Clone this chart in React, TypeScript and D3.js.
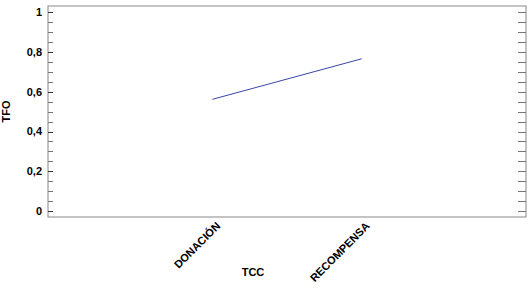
import React from "react";
import * as d3 from "d3";

const categories = ["DONACIÓN", "RECOMPENSA"];
const values = [0.562, 0.766];
const majorTicks = [0, 0.2, 0.4, 0.6, 0.8, 1];
const minorTicks = d3.range(0, 1.0001, 0.05);

export default function App() {
  const W = 528, H = 296;
  const left = 48, right = 526, top = 6, bottom = 217;
  const x = d3.scalePoint<string>().domain(categories).range([left, right]).padding(1.1);
  const y = d3.scaleLinear().domain([0, 1]).range([211, 12.3]);
  const line = d3.line<number>().x((_, i) => x(categories[i])!).y((d) => y(d));
  const fmt = (v: number) => d3.format(".1~f")(v).replace(".", ",");
  const font = "'Liberation Sans', Arial, sans-serif";
  return (
    <svg width={W} height={H} style={{ position: "absolute", left: 0, top: 0 }} fontFamily={font}>
      <rect x={0} y={0} width={W} height={H} fill="#fff" />
      <rect x={left} y={top} width={right - left} height={bottom - top} fill="none" stroke="#888" strokeWidth={1} />
      {minorTicks.map((t, i) => (
        <g key={"m" + i}>
          <line x1={left} x2={left + 5} y1={Math.round(y(t)) + 0.5} y2={Math.round(y(t)) + 0.5} stroke="#777" />
          <line x1={right - 8} x2={right} y1={Math.round(y(t)) + 0.5} y2={Math.round(y(t)) + 0.5} stroke="#777" />
        </g>
      ))}
      {majorTicks.map((t, i) => (
        <g key={"M" + i}>
          <line x1={left} x2={left + 5} y1={Math.round(y(t)) + 0.5} y2={Math.round(y(t)) + 0.5} stroke="#333" />
          <text x={42} y={y(t)} dy="0.35em" textAnchor="end" fontSize={11} fontWeight="bold" fill="#000">
            {fmt(t)}
          </text>
        </g>
      ))}
      <path d={line(values)!} fill="none" stroke="#3a46a8" strokeWidth={1} />
      {categories.map((c) => (
        <text key={c} transform={`translate(${x(c)! + 6},${224}) rotate(-45)`} textAnchor="end" dy="0.35em"
          fontSize={11} fontWeight="bold" fill="#000">
          {c}
        </text>
      ))}
      <text x={(left + right) / 2 - 34} y={272} dy="0.35em" textAnchor="middle" fontSize={11} fontWeight="bold">TCC</text>
      <text transform={`translate(6,${(top + bottom) / 2}) rotate(-90)`} dy="0.35em" textAnchor="middle" fontSize={11} fontWeight="bold">TFO</text>
    </svg>
  );
}
